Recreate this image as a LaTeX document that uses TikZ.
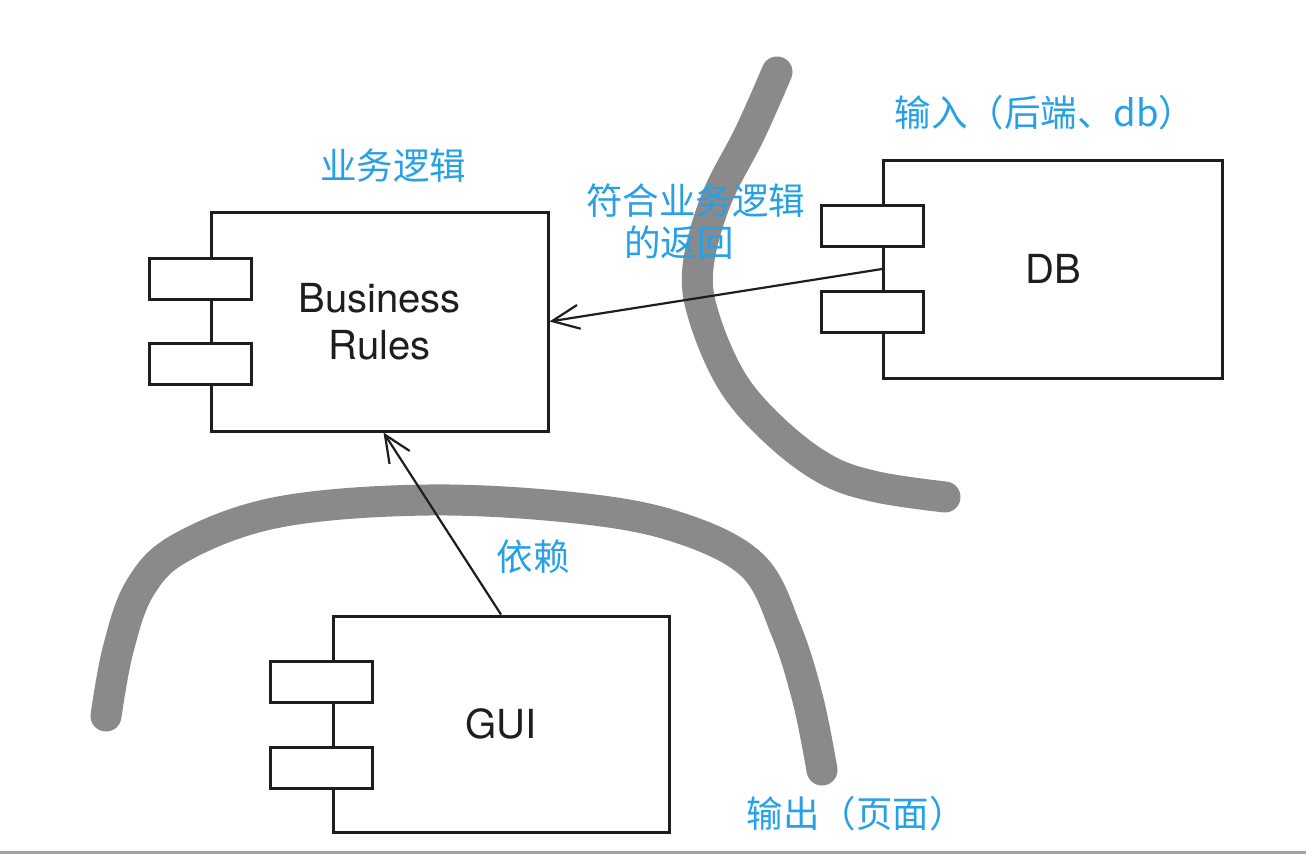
\documentclass[tikz,border=0pt]{standalone}
\usepackage{fontspec}
\setsansfont{TeX Gyre Heros}
\newfontfamily\cjk{Noto Sans CJK SC}
\usetikzlibrary{arrows.meta}
\definecolor{lblblue}{RGB}{38,160,230}
\definecolor{wall}{RGB}{138,138,138}
\definecolor{sepgray}{RGB}{160,160,160}
\definecolor{ink}{RGB}{30,30,30}
\tikzset{
  comp/.style={draw=ink, line width=3pt, fill=white, rectangle, inner sep=0pt, text=ink,
    font=\sffamily\fontsize{40}{47}\selectfont, align=center},
  port/.style={draw=ink, line width=3pt, fill=white, rectangle, inner sep=0pt,
    minimum width=102pt, minimum height=41pt},
  lbl/.style={text=lblblue, font=\cjk\fontsize{36.5}{42}\selectfont, inner sep=0pt},
  arr/.style={draw=ink, line width=2.2pt, -{Straight Barb[length=27pt,width=24pt,line width=2.2pt]}},
  boundary/.style={draw=wall, line width=31pt, line cap=round, line join=round}
}
\begin{document}
\begin{tikzpicture}[x=1pt,y=-1pt]
\useasboundingbox[fill=white] (0,0) rectangle (1306,860);

% boundaries
\draw[boundary] plot[smooth, tension=0.6] coordinates {(777,72) (750,133) (716,200) (698,267) (704,317) (733,383) (777,433) (827,470) (877,487) (945,497)};
\draw[boundary] plot[smooth, tension=0.6] coordinates {(106,716) (118,650) (140,588) (182,547) (279,512) (428,500) (577,508) (677,527) (752,565) (786,630) (808,700) (822,770)};

% separator line
\draw[sepgray, line width=3pt] (0,852) -- (1306,852);

% components
\node[comp, minimum width=337pt, minimum height=219pt] (br) at (379.5,321.5) {Business\\Rules};
\node[port] (brp1) at (200,278.5) {};
\node[port] (brp2) at (200,364) {};

\node[comp, minimum width=339pt, minimum height=218pt] (db) at (1053,269) {DB};
\node[port] (dbp1) at (872.5,226) {};
\node[port] (dbp2) at (872.5,312) {};

\node[comp, minimum width=336pt, minimum height=216pt] (gui) at (501,724) {GUI};
\node[port] (guip1) at (321.5,681.5) {};
\node[port] (guip2) at (321.5,768) {};

% connectors
\draw[arr] (db.west) -- (br.east);
\draw[arr] (gui.north) -- ([xshift=4pt]br.south);

% labels
\node[lbl] (lbr) at (393,166) {业务逻辑};
\node[lbl] (ldb) at (1045,113) {输入（后端、db）};
\node[lbl, align=left, anchor=west] (lret) at (586,222) {符合业务逻辑\\\hspace{38pt}的返回};
\node[lbl] (ldep) at (533,557) {依赖};
\node[lbl] (lout) at (856,814) {输出（页面）};
\end{tikzpicture}
\end{document}
